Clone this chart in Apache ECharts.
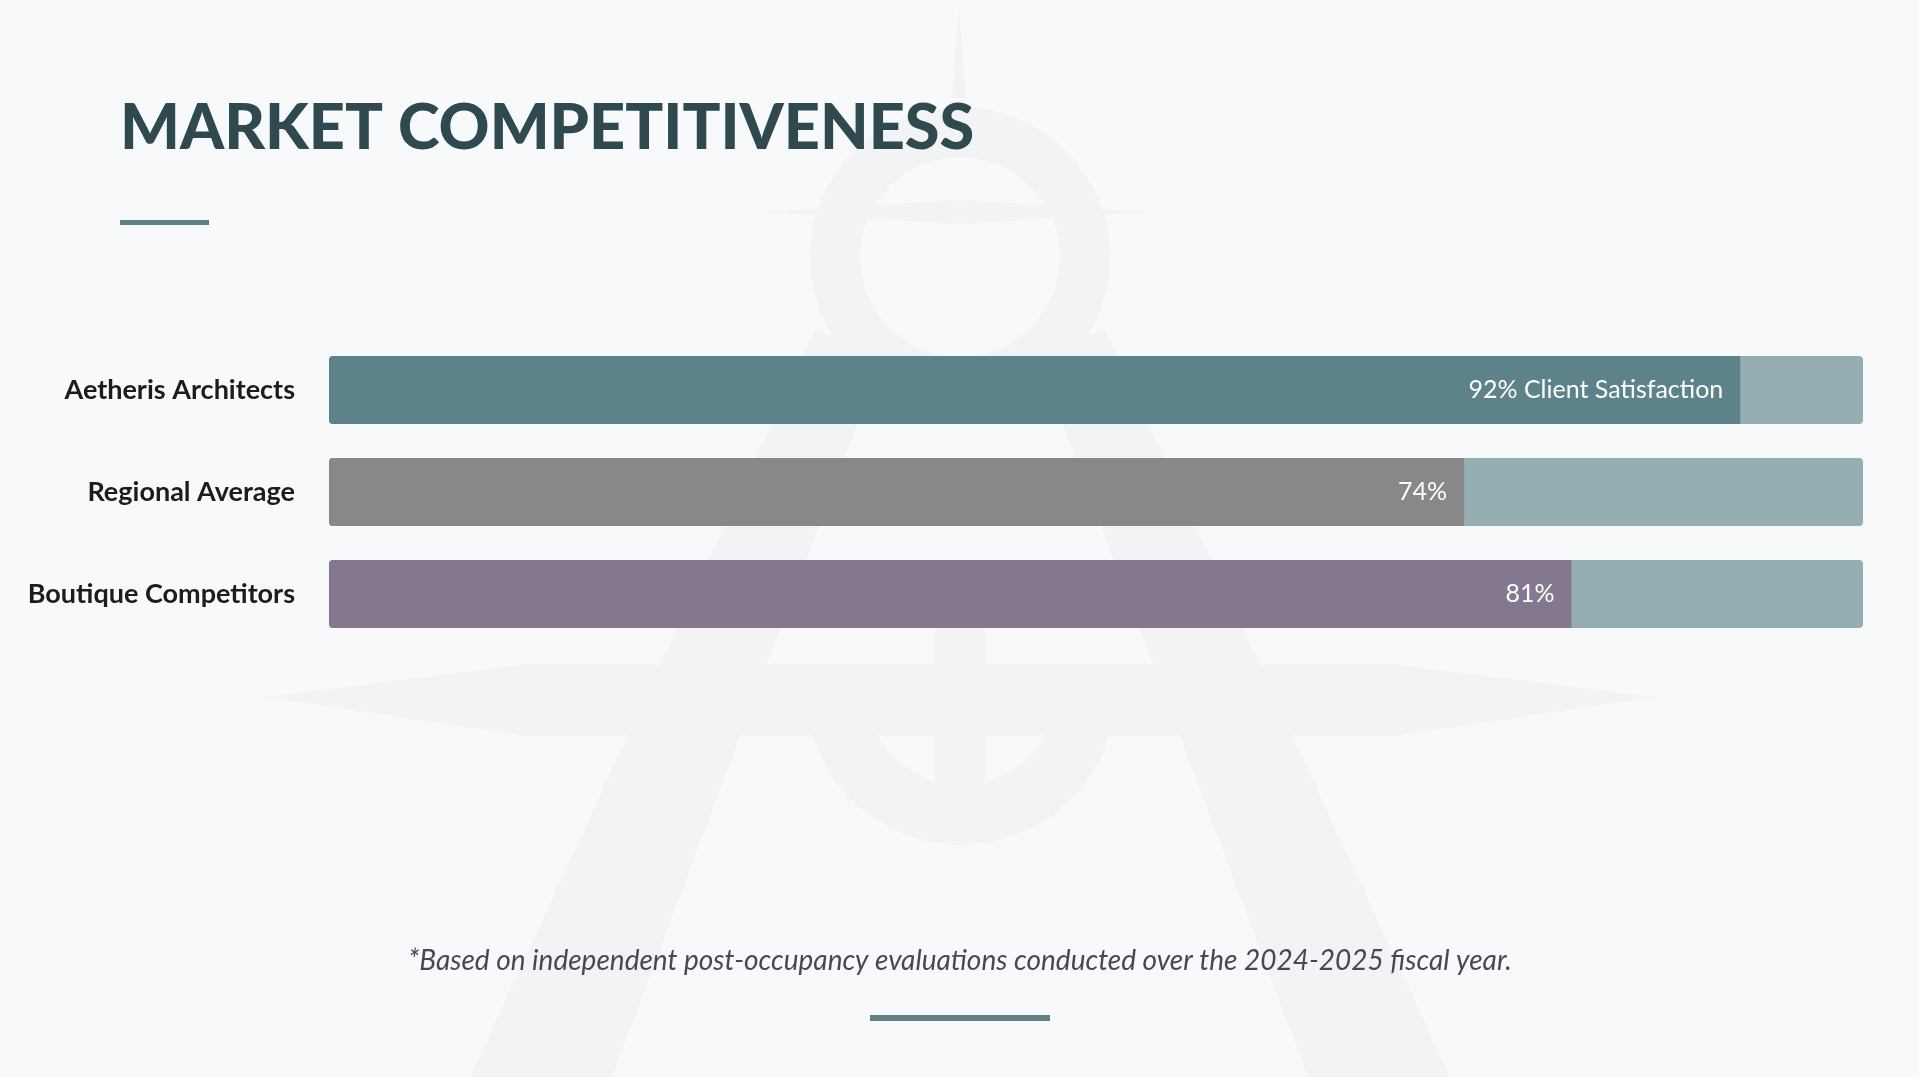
<!DOCTYPE html>
<html>
<head>
<meta charset="utf-8">
<script src="https://cdn.jsdelivr.net/npm/echarts@6/dist/echarts.min.js"></script>
<style>
html,body{margin:0;padding:0;background:#f8f9fb;}
#chart{width:1919px;height:1077px;}
</style>
</head>
<body>
<div id="chart"></div>
<script>
// ---- data ----
const categories = ['Aetheris Architects', 'Regional Average', 'Boutique Competitors'];
const scores = [92, 74, 81];
const labelSuffix = [' Client Satisfaction', '', ''];
const trackMax = [100, 100, 100];
const barColors = ['#5d838a', '#888888', '#83788f'];
const titleText = 'MARKET COMPETITIVENESS';
const footnoteText = '*Based on independent post-occupancy evaluations conducted over the 2024-2025 fiscal year.';

const chart = echarts.init(document.getElementById('chart'), null, {renderer: 'canvas'});
const wm = '#f2f3f5';

const option = {
  backgroundColor: '#f8f9fb',
  animation: false,
  graphic: [
    // watermark (faint logo)
    {type: 'polygon', z: -10, silent: true, shape: {points: [[952,98],[959,6],[966,98]]}, style: {fill: wm}},
    {type: 'polygon', z: -10, silent: true, shape: {points: [[815,330],[885,350],[612,1077],[470,1077]]}, style: {fill: wm}},
    {type: 'polygon', z: -10, silent: true, shape: {points: [[1105,330],[1035,350],[1308,1077],[1450,1077]]}, style: {fill: wm}},
    {type: 'polygon', z: -10, silent: true, shape: {points: [[263,697],[520,665],[1400,665],[1657,697],[1400,735],[520,735]]}, style: {fill: wm}},
    {type: 'polygon', z: -10, silent: true, shape: {points: [[760,212],[960,200],[1150,212],[960,224]]}, style: {fill: wm}},
    {type: 'ring', z: -10, silent: true, shape: {cx: 960, cy: 257, r: 150, r0: 100}, style: {fill: wm}},
    {type: 'sector', z: -10, silent: true, shape: {cx: 961, cy: 690, r: 155, r0: 95, startAngle: 0.15, endAngle: Math.PI - 0.15}, style: {fill: wm}},
    {type: 'rect', z: -10, silent: true, shape: {x: 935, y: 575, width: 50, height: 210}, style: {fill: wm}},
    // title
    {type: 'text', left: 120, top: 97, style: {text: titleText, font: '900 63px Lato', fill: '#2f4a4f'}},
    {type: 'rect', shape: {x: 120, y: 220, width: 89, height: 5}, style: {fill: '#5c8288'}},
    // footnote
    {type: 'text', x: 960, y: 961, style: {text: footnoteText, font: 'italic 28px Lato', fill: '#4b4558', align: 'center', verticalAlign: 'middle'}},
    {type: 'rect', shape: {x: 870, y: 1015, width: 180, height: 6}, style: {fill: '#5c8288'}}
  ],
  grid: {left: 329, right: 56, top: 339, height: 306, containLabel: false},
  xAxis: {type: 'value', min: 0, max: 100, show: false},
  yAxis: {
    type: 'category', data: categories, inverse: true,
    axisLine: {show: false}, axisTick: {show: false}, splitLine: {show: false},
    axisLabel: {margin: 34, fontFamily: 'Lato', fontWeight: 'bold', fontSize: 27, color: '#1c1c1c'}
  },
  series: [
    {
      type: 'bar', data: trackMax, barWidth: 68, barGap: '-100%', silent: true,
      itemStyle: {color: '#95aeb1', borderRadius: 4}, z: 1
    },
    {
      type: 'bar', barWidth: 68, z: 2,
      data: scores.map((v, i) => ({value: v, itemStyle: {color: barColors[i]}})),
      itemStyle: {borderRadius: [4, 0, 0, 4]},
      label: {
        show: true, position: 'insideRight', distance: 17,
        formatter: p => p.value + '%' + labelSuffix[p.dataIndex],
        fontFamily: 'Lato', fontSize: 25, color: '#ffffff'
      }
    }
  ]
};
chart.setOption(option);
</script>
</body>
</html>
